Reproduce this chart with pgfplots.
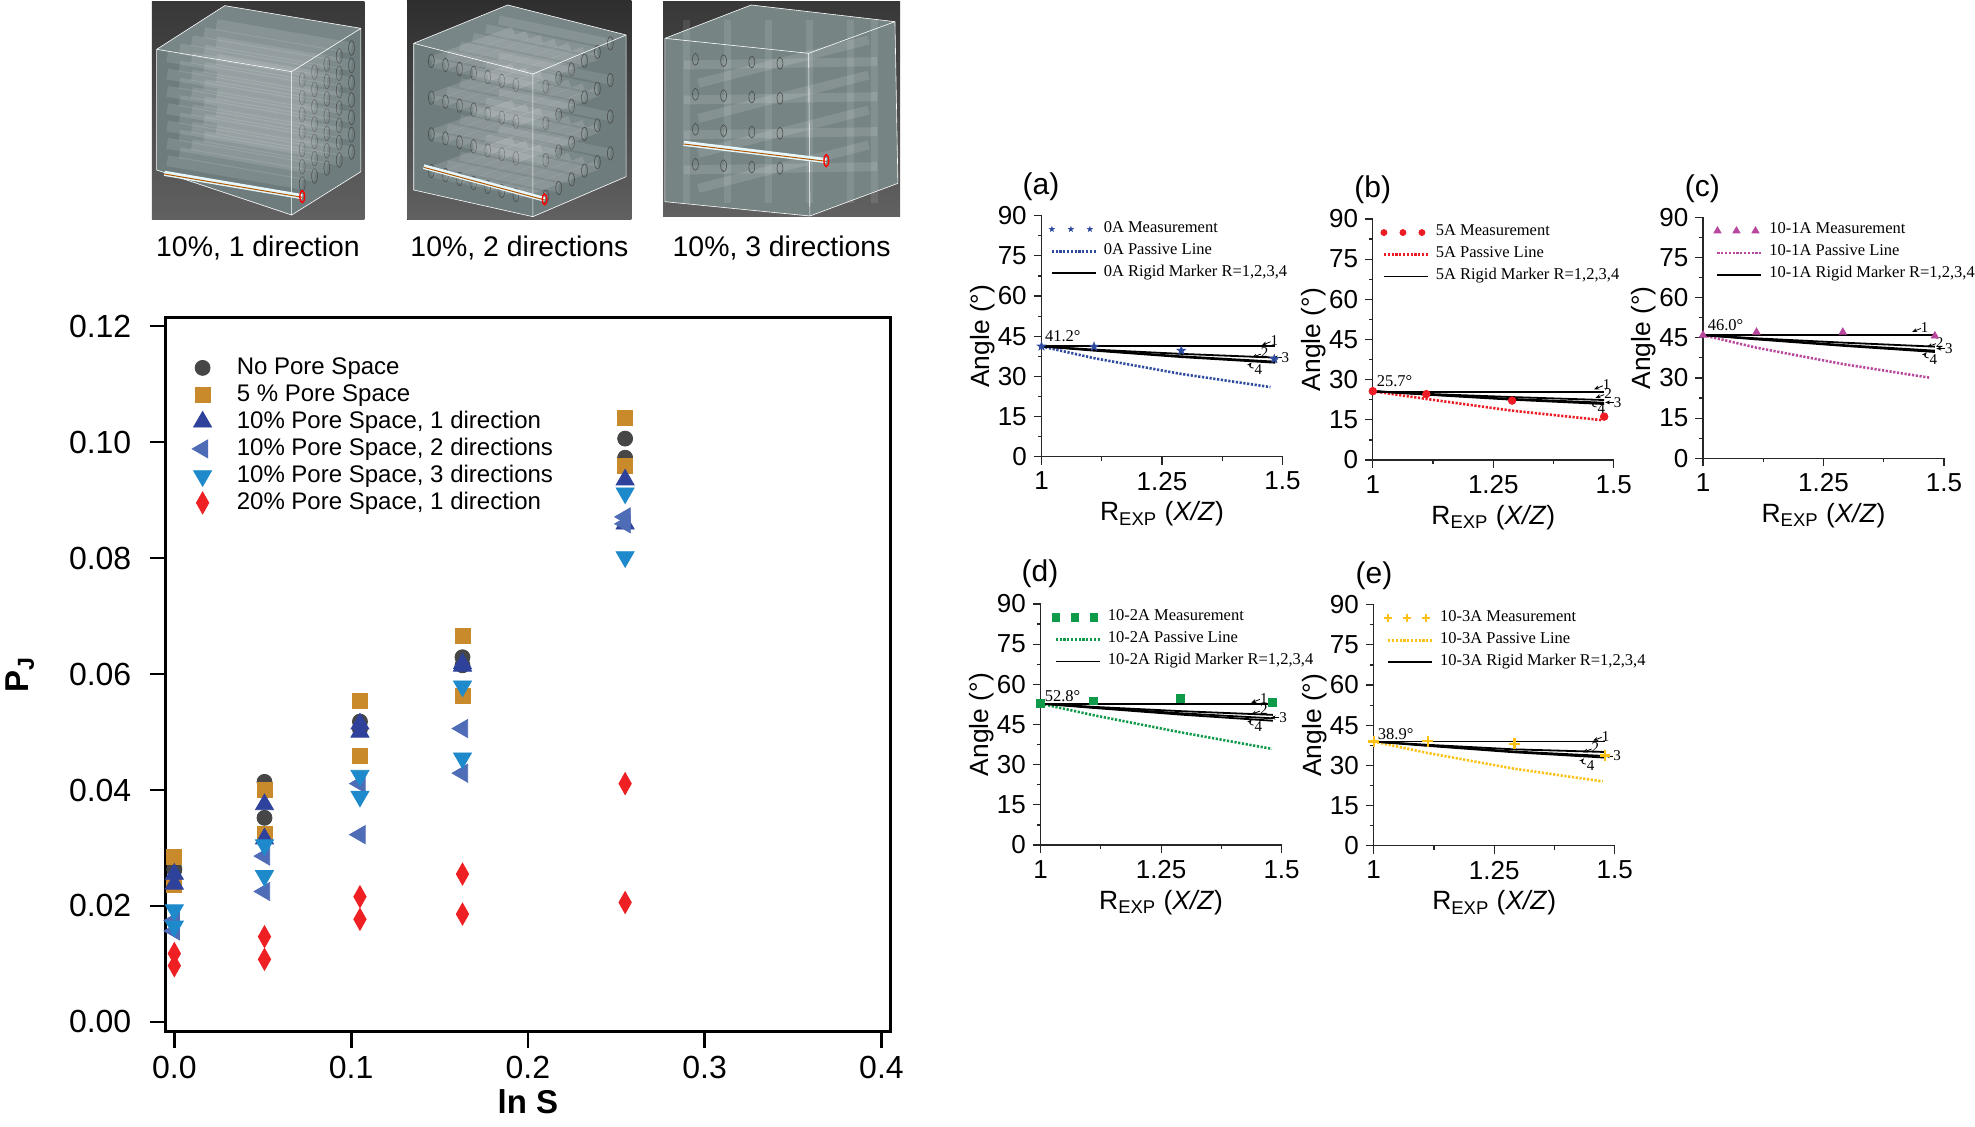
\documentclass[border=0pt]{standalone}
\usepackage{pgfplots}
\pgfplotsset{compat=1.18}
\usepackage{fontspec}
\setmainfont{Liberation Sans}
\newfontfamily\tnr{Liberation Serif}
\usetikzlibrary{arrows.meta}
\definecolor{cA}{HTML}{464646}
\definecolor{cB}{HTML}{C98A2B}
\definecolor{cC}{HTML}{2E419B}
\definecolor{cD}{HTML}{4F6CB7}
\definecolor{cE}{HTML}{1F8ACB}
\definecolor{cF}{HTML}{EE2024}
\definecolor{pa}{HTML}{2E4BA0}
\definecolor{pb}{HTML}{ED1C24}
\definecolor{pc}{HTML}{B8479E}
\definecolor{pd}{HTML}{0E9A48}
\definecolor{pe}{HTML}{FBC116}
\pgfdeclareplotmark{fstar}{%
  \pgfpathmoveto{\pgfpointpolar{90}{\pgfplotmarksize}}%
  \pgfpathlineto{\pgfpointpolar{126}{0.42\pgfplotmarksize}}%
  \pgfpathlineto{\pgfpointpolar{162}{\pgfplotmarksize}}%
  \pgfpathlineto{\pgfpointpolar{198}{0.42\pgfplotmarksize}}%
  \pgfpathlineto{\pgfpointpolar{234}{\pgfplotmarksize}}%
  \pgfpathlineto{\pgfpointpolar{270}{0.42\pgfplotmarksize}}%
  \pgfpathlineto{\pgfpointpolar{306}{\pgfplotmarksize}}%
  \pgfpathlineto{\pgfpointpolar{342}{0.42\pgfplotmarksize}}%
  \pgfpathlineto{\pgfpointpolar{18}{\pgfplotmarksize}}%
  \pgfpathlineto{\pgfpointpolar{54}{0.42\pgfplotmarksize}}%
  \pgfpathclose\pgfusepathqfill}
\tikzset{
  passive/.style={line width=1.3pt, dash pattern=on 1.1pt off 0.8pt},
  rigid/.style={black, line width=0.9pt},
  lab/.style={font=\tnr\fontsize{7.5}{8}\selectfont, inner sep=0pt},
  arr/.style={-{Stealth[length=2.5pt,width=2pt]}, line width=0.4pt, black},
  shot/.style={x=0.29343pt, y=-0.16667pt, shift={(0pt,563pt)}},
  ann/.style={font=\tnr\fontsize{8.25}{10}\selectfont, inner sep=0pt, anchor=west},
}
\pgfplotsset{
  threemarks/.style={legend image code/.code={%
     \draw[only marks,##1,mark size=#1] plot coordinates {(0pt,0pt)(9.5pt,0pt)(19pt,0pt)};}},
  linekey/.style={legend image code/.code={%
     \draw[##1] plot coordinates {(0pt,0pt)(22pt,0pt)};}},
  panel/.style={
    scale only axis, width=120.5pt, height=120.5pt,
    xmin=1, xmax=1.5, ymin=0, ymax=90, clip=false,
    axis x line=bottom, axis y line=left, axis line style={-, line width=0.6pt, black!85},
    xtick={1,1.25,1.5}, xticklabels={1,1.25,1.5}, minor x tick num=1,
    ytick={0,15,30,45,60,75,90}, minor y tick num=1,
    tick align=outside, major tick length=4pt, minor tick length=2pt,
    every tick/.style={line width=0.6pt, black!85},
    tick label style={font=\fontsize{13}{15}\selectfont},
    yticklabel style={inner sep=3.2pt},
    xticklabel style={inner sep=3.5pt},
    /pgf/number format/assume math mode=true,
    xlabel={R\textsubscript{EXP} (\textit{X/Z})},
    ylabel={Angle (°)},
    label style={font=\fontsize{13.2}{15}\selectfont},
    xlabel style={at={(axis description cs:0.5,0)},anchor=base,yshift=-32pt},
    ylabel style={at={(axis description cs:0,0.5)},anchor=center,yshift=29.5pt},
    legend cell align=left,
    legend style={draw=none,fill=none,inner sep=0pt,anchor=north west,
      font=\tnr\fontsize{8.25}{10}\selectfont,row sep=0pt,column sep=3.3pt,
      nodes={inner sep=0pt,text height=7pt,text depth=4pt}},
  },
}
\newcommand\rlabels[8]{%
  \node[lab] at (axis cs:#1,#2) {1};
  \draw[arr] (axis cs:{#1-0.008},{#2-0.3}) -- (axis cs:{#1-0.026},{#2-1.6});
  \node[lab] at (axis cs:#3,#4) {2};
  \draw[arr] (axis cs:{#3-0.008},{#4-0.5}) -- (axis cs:{#3-0.026},{#4-1.7});
  \node[lab] at (axis cs:#5,#6) {3};
  \draw[arr] (axis cs:{#5-0.008},{#6}) -- (axis cs:{#5-0.026},{#6});
  \node[lab] at (axis cs:#7,#8) {4};
  \draw[arr] (axis cs:{#7-0.010},{#8+0.5}) to[out=180,in=230,looseness=1.6] (axis cs:{#7-0.014},{#8+2.6});
}
\newcommand\fs[1]{\fontsize{#1}{#1}\selectfont}
\begin{document}
\begin{tikzpicture}
\path[use as bounding box] (0,0) rectangle (987.5pt,563pt);

% ---- the three renderings (illustrative sketches)
\begin{scope}[shot]
  % 1 direction
  \fill[top color=black!78, bottom color=black!62] (259,5) rectangle (621,657);
  \fill[color={rgb,255:red,110;green,124;blue,126}] (383,17)--(615,85)--(615,515)--(497,645)--(267,510)--(267,148)--cycle;
  \fill[white,opacity=.08] (383,17)--(615,85)--(497,215)--(267,148)--cycle;
  \foreach \r in {0,...,6}\foreach \d in {0,...,4}{
    \draw[white,opacity=.11,line width=5.5pt] ({285+21*\d},{170+\r*52-24*\d})--({515+21*\d},{240+\r*52-24*\d});
    \draw[black!70,line width=.3pt] ({515+21*\d},{240+\r*52-24*\d}) ellipse (5 and 22);
  }
  \draw[white!85,line width=.3pt] (383,17)--(615,85)--(615,515)--(497,645)--(267,510)--(267,148)--cycle (267,148)--(497,215)--(615,85) (497,215)--(497,645);
  \draw[cyan!10!white,line width=2.6pt] (280,520)--(515,590);
  \draw[orange!70!black,line width=.5pt] (280,522)--(515,592);
  \draw[red,line width=.7pt] (515,590) ellipse (4 and 18);
  % 2 directions
  \fill[top color=black!82, bottom color=black!62] (694,0) rectangle (1076,659);
  \fill[color={rgb,255:red,110;green,124;blue,126}] (865,15)--(1067,105)--(1067,530)--(908,650)--(705,570)--(705,130)--cycle;
  \fill[white,opacity=.08] (865,15)--(1067,105)--(908,222)--(705,130)--cycle;
  \foreach \k in {0,1,2,3}{
    \foreach \j in {0,...,6}{
      \draw[white,opacity=.12,line width=4.5pt] ({735+24*\j},{183+110*\k+12*\j})--({875+24*\j},{93+110*\k+12*\j});
      \draw[black!70,line width=.3pt] ({735+24*\j},{183+110*\k+12*\j}) ellipse (5 and 20);
    }
    \foreach \j in {0,...,5}{
      \draw[white,opacity=.1,line width=4.5pt] ({930+22*\j},{260+110*\k-26*\j})--({740+22*\j},{190+110*\k-26*\j});
      \draw[black!70,line width=.3pt] ({930+22*\j},{260+110*\k-26*\j}) ellipse (5 and 20);
    }
  }
  \draw[white!85,line width=.3pt] (865,15)--(1067,105)--(1067,530)--(908,650)--(705,570)--(705,130)--cycle (705,130)--(908,222)--(1067,105) (908,222)--(908,650);
  \draw[cyan!10!white,line width=2.4pt] (722,500)--(928,598);
  \draw[orange!70!black,line width=.5pt] (722,502)--(928,600);
  \draw[red,line width=.7pt] (928,598) ellipse (4 and 16);
  % 3 directions
  \fill[top color=black!78, bottom color=black!62] (1130,5) rectangle (1534,650);
  \fill[color={rgb,255:red,118;green,132;blue,132}] (1280,15)--(1525,65)--(1530,550)--(1380,648)--(1133,605)--(1133,115)--cycle;
  \foreach \x in {1170,1240,1310,1380,1450,1490}{
    \draw[white,opacity=.1,line width=3.5pt] (\x,60)--(\x,610);
  }
  \foreach \k in {0,1,2,3}{
    \draw[white,opacity=.12,line width=4.5pt] (1165,{195+105*\k})--(1495,{185+105*\k});
    \draw[white,opacity=.12,line width=4.5pt] (1190,{250+105*\k})--(1480,{120+105*\k});
    \foreach \j in {0,1,2,3}{
      \draw[black!70,line width=.3pt] ({1185+48*\j},{178+105*\k+4*\j}) ellipse (5 and 18);
    }
  }
  \draw[white!85,line width=.3pt] (1280,15)--(1525,65)--(1530,550)--(1380,648)--(1133,605)--(1133,115)--cycle (1133,115)--(1378,160)--(1525,65) (1378,160)--(1380,648);
  \draw[cyan!10!white,line width=2.6pt] (1165,430)--(1408,482);
  \draw[orange!70!black,line width=.5pt] (1165,432)--(1408,484);
  \draw[red,line width=.7pt] (1408,482) ellipse (4 and 18);
\end{scope}
\node[font=\fs{14.2}] at (129pt,439pt) {10\%, 1 direction};
\node[font=\fs{14.2}] at (259.7pt,439pt) {10\%, 2 directions};
\node[font=\fs{14.2}] at (390.8pt,439pt) {10\%, 3 directions};

% ---- main axis
\begin{axis}[
  at={(82.75pt,47.1pt)}, anchor=south west, scale only axis,
  width=362.4pt, height=357.2pt,
  xmin=-0.005, xmax=0.405, ymin=-0.0017, ymax=0.1215, clip=false,
  axis line style={line width=1.4pt},
  xtick={0,0.1,0.2,0.3,0.4}, ytick={0,0.02,0.04,0.06,0.08,0.10,0.12},
  scaled y ticks=false,
  tick pos=left, tick align=outside, major tick length=8pt,
  every tick/.style={line width=1.4pt,black},
  /pgf/number format/assume math mode=true,
  /pgf/number format/fixed, /pgf/number format/fixed zerofill,
  xticklabel style={/pgf/number format/precision=1,inner sep=3.9pt},
  yticklabel style={/pgf/number format/precision=2,inner sep=8.9pt},
  tick label style={font=\fs{16}},
  xlabel={\textbf{ln S}}, ylabel={\textbf{P\textsubscript{J}}},
  label style={font=\fs{16.5}},
  xlabel style={at={(axis description cs:0.5,0)},anchor=center,yshift=-35pt},
  ylabel style={at={(axis description cs:0,0.5)},anchor=center,yshift=72.7pt},
  legend cell align=left,
  legend image post style={yshift=1pt},
  legend style={draw=none,fill=none,inner sep=0pt,anchor=north west,
    at={(axis description cs:0.0363,0.946)},
    font=\fs{12},row sep=0pt,column sep=12.6pt,
    nodes={inner sep=0pt,text height=9pt,text depth=4.5pt}},
]
\addplot[only marks, mark=*, mark size=3.75pt, color=cA] coordinates {
 (0,0.0264)(0,0.0262)(0.051,0.0414)(0.051,0.0352)(0.105,0.0518)(0.105,0.0505)(0.163,0.0629)(0.163,0.0615)(0.255,0.1006)(0.255,0.0973)};
\addlegendentry{No Pore Space}
\addplot[only marks, mark=square*, mark size=3.75pt, color=cB] coordinates {
 (0,0.0285)(0,0.0236)(0.051,0.0400)(0.051,0.0325)(0.105,0.0553)(0.105,0.0458)(0.163,0.0665)(0.163,0.0562)(0.255,0.1042)(0.255,0.0959)};
\addlegendentry{5 \% Pore Space}
\addplot[only marks, mark=triangle*, mark size=5.2pt, color=cC] coordinates {
 (0,0.0255)(0,0.0238)(0.051,0.0375)(0.051,0.0316)(0.105,0.0514)(0.105,0.0500)(0.163,0.0618)(0.163,0.0614)(0.255,0.0935)(0.255,0.0859)};
\addlegendentry{10\% Pore Space, 1 direction}
\addplot[only marks, mark=triangle*, mark options={rotate=90}, mark size=5.2pt, color=cD] coordinates {
 (0,0.0175)(0,0.0157)(0.051,0.0286)(0.051,0.0225)(0.105,0.0411)(0.105,0.0323)(0.163,0.0506)(0.163,0.0429)(0.255,0.0871)(0.255,0.0859)};
\addlegendentry{10\% Pore Space, 2 directions}
\addplot[only marks, mark=triangle*, mark options={rotate=180}, mark size=5.2pt, color=cE] coordinates {
 (0,0.0193)(0,0.0165)(0.051,0.0305)(0.051,0.0252)(0.105,0.0425)(0.105,0.0389)(0.163,0.0579)(0.163,0.0455)(0.255,0.0912)(0.255,0.0802)};
\addlegendentry{10\% Pore Space, 3 directions}
\addplot[only marks, mark=diamond*, mark options={xscale=0.75}, mark size=5.5pt, color=cF] coordinates {
 (0,0.0118)(0,0.0097)(0.051,0.0147)(0.051,0.0108)(0.105,0.0216)(0.105,0.0177)(0.163,0.0255)(0.163,0.0186)(0.255,0.0411)(0.255,0.0206)};
\addlegendentry{20\% Pore Space, 1 direction}
\end{axis}

% ---- panel (a)
\begin{axis}[panel, at={(520.75pt,334.65pt)}, anchor=south west,
   legend style={at={(axis cs:1.014,89.2)}}]
\addplot[only marks, mark=fstar, mark size=2.7pt, color=pa, threemarks=1.7pt] coordinates {(1,41.2)(1.109,41.1)(1.29,39.6)(1.483,36.5)};
\addlegendentry{0A Measurement}
\addplot[passive, color=pa, linekey] coordinates {(1,41.2)(1.109,36.8)(1.29,30.9)(1.475,26)};
\addlegendentry{0A Passive Line}
\addplot[rigid, linekey] coordinates {(1,41.2)(1.485,41.2)};
\addlegendentry{0A Rigid Marker R=1,2,3,4}
\addplot[rigid, forget plot] coordinates {(1,41.2)(1.109,40.0)(1.29,38.4)(1.485,37)};
\addplot[rigid, forget plot] coordinates {(1,41.2)(1.109,39.8)(1.29,37.5)(1.485,35.5)};
\addplot[rigid, forget plot] coordinates {(1,41.2)(1.109,39.6)(1.29,37.2)(1.485,35.1)};
\node[ann] at (axis cs:1.0065,45.2) {41.2°};
\rlabels{1.483}{43.2}{1.463}{38.8}{1.506}{37}{1.45}{32.6}
\end{axis}

% ---- panel (b)
\begin{axis}[panel, at={(686.4pt,333pt)}, anchor=south west,
   legend style={at={(axis cs:1.016,89.2)}}]
\addplot[only marks, mark=*, mark size=1.9pt, color=pb, threemarks=1.5pt] coordinates {(1,25.7)(1.111,24.6)(1.289,22.2)(1.48,16.2)};
\addlegendentry{5A Measurement}
\addplot[passive, color=pb, linekey] coordinates {(1,25.7)(1.111,22.8)(1.29,18.4)(1.475,14.9)};
\addlegendentry{5A Passive Line}
\addplot[rigid, linekey] coordinates {(1,25.5)(1.48,25.5)};
\addlegendentry{5A Rigid Marker R=1,2,3,4}
\addplot[rigid, forget plot] coordinates {(1,25.7)(1.111,24.7)(1.29,23.5)(1.48,22.4)};
\addplot[rigid, forget plot] coordinates {(1,25.7)(1.111,24.5)(1.29,22.8)(1.48,21.4)};
\addplot[rigid, forget plot] coordinates {(1,25.7)(1.111,24.4)(1.29,22.5)(1.48,20.9)};
\node[ann] at (axis cs:1.0074,29.3) {25.7°};
\rlabels{1.485}{28}{1.488}{24.9}{1.508}{21.5}{1.474}{19.3}
\end{axis}

% ---- panel (c)
\begin{axis}[panel, at={(851.5pt,333.85pt)}, anchor=south west,
   legend style={at={(axis cs:1.022,89.2)}}]
\addplot[only marks, mark=triangle*, mark size=2.1pt, color=pc, threemarks=2pt] coordinates {(1,46)(1.111,47.1)(1.29,47.1)(1.481,45.7)};
\addlegendentry{10-1A Measurement}
\addplot[passive, color=pc, linekey] coordinates {(1,46)(1.111,41.3)(1.29,35.2)(1.47,30.1)};
\addlegendentry{10-1A Passive Line}
\addplot[rigid, linekey] coordinates {(1,46)(1.481,46)};
\addlegendentry{10-1A Rigid Marker R=1,2,3,4}
\addplot[rigid, forget plot] coordinates {(1,46)(1.111,44.8)(1.29,43.2)(1.481,41.7)};
\addplot[rigid, forget plot] coordinates {(1,46)(1.111,44.6)(1.29,42.3)(1.481,40.2)};
\addplot[rigid, forget plot] coordinates {(1,46)(1.111,44.4)(1.29,42)(1.481,39.7)};
\node[ann] at (axis cs:1.009,49.9) {46.0°};
\rlabels{1.46}{48.8}{1.491}{43.3}{1.51}{41}{1.478}{37}
\end{axis}

% ---- panel (d)
\begin{axis}[panel, at={(520.3pt,140.5pt)}, anchor=south west,
   legend style={at={(axis cs:1.023,89.2)}}]
\addplot[only marks, mark=square*, mark size=1.9pt, color=pd, threemarks=1.9pt] coordinates {(1,52.8)(1.109,53.8)(1.29,54.8)(1.481,53.2)};
\addlegendentry{10-2A Measurement}
\addplot[passive, color=pd, linekey] coordinates {(1,52.8)(1.109,48.5)(1.29,42.1)(1.48,35.9)};
\addlegendentry{10-2A Passive Line}
\addplot[rigid, linekey] coordinates {(1,52.8)(1.482,52.8)};
\addlegendentry{10-2A Rigid Marker R=1,2,3,4}
\addplot[rigid, forget plot] coordinates {(1,52.8)(1.109,51.6)(1.29,50)(1.482,48.6)};
\addplot[rigid, forget plot] coordinates {(1,52.8)(1.109,51.4)(1.29,49.2)(1.482,47.3)};
\addplot[rigid, forget plot] coordinates {(1,52.8)(1.109,51.2)(1.29,48.7)(1.482,46.4)};
\node[ann] at (axis cs:1.008,55.7) {52.8°};
\rlabels{1.463}{54.7}{1.463}{50.5}{1.503}{47.6}{1.452}{44.3}
\end{axis}

% ---- panel (e)
\begin{axis}[panel, at={(686.85pt,140.15pt)}, anchor=south west,
   legend style={at={(axis cs:1.021,89.2)}}]
\addplot[only marks, mark=+, mark options={line width=1.1pt}, mark size=2.7pt, color=pe, threemarks=2pt] coordinates {(1,38.9)(1.112,39)(1.292,38.1)(1.48,33.7)};
\addlegendentry{10-3A Measurement}
\addplot[passive, color=pe, linekey] coordinates {(1,38.9)(1.11,34.7)(1.29,28.8)(1.475,24)};
\addlegendentry{10-3A Passive Line}
\addplot[rigid, linekey] coordinates {(1,38.9)(1.48,38.9)};
\addlegendentry{10-3A Rigid Marker R=1,2,3,4}
\addplot[rigid, forget plot] coordinates {(1,38.9)(1.11,37.7)(1.29,36)(1.48,35)};
\addplot[rigid, forget plot] coordinates {(1,38.9)(1.11,37.5)(1.29,35.2)(1.48,33.5)};
\addplot[rigid, forget plot] coordinates {(1,38.9)(1.11,37.3)(1.29,34.9)(1.48,32.9)};
\node[ann] at (axis cs:1.008,41.8) {38.9°};
\rlabels{1.481}{40.8}{1.46}{36.6}{1.505}{33.5}{1.45}{30}
\end{axis}

\node[font=\fs{15}] at (520.5pt,469.5pt) {(a)};
\node[font=\fs{15}] at (686.4pt,468pt) {(b)};
\node[font=\fs{15}] at (851.2pt,468.6pt) {(c)};
\node[font=\fs{15}] at (520pt,276pt) {(d)};
\node[font=\fs{15}] at (687pt,275.2pt) {(e)};
\end{tikzpicture}
\end{document}
